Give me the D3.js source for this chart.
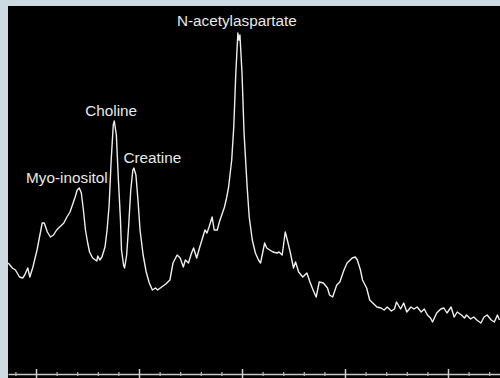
<!DOCTYPE html>
<html>
<head>
<meta charset="utf-8">
<script src="https://cdn.jsdelivr.net/npm/d3@7"></script>
<style>
  html, body { margin: 0; padding: 0; background: #cddae2; }
  svg { display: block; }
  .peak-label { font-family: "Liberation Sans", Arial, sans-serif; font-size: 15.3px; fill: #e8e8e8; }
</style>
</head>
<body>
<svg id="chart" width="500" height="378"></svg>
<script>
// chemical shift (ppm) left to right
const ppm = [
  4.27, 4.23, 4.20, 4.16, 4.13, 4.11, 4.08, 4.06, 4.03, 3.99,
  3.94, 3.92, 3.89, 3.86, 3.83, 3.80, 3.77, 3.73, 3.70, 3.67,
  3.64, 3.62, 3.60, 3.58, 3.56, 3.54, 3.52, 3.50, 3.48, 3.45,
  3.41, 3.40, 3.38, 3.36, 3.33, 3.31, 3.29, 3.27, 3.25, 3.24,
  3.22, 3.20, 3.18, 3.17, 3.15, 3.14, 3.12, 3.10, 3.08, 3.06,
  3.05, 3.03, 3.01, 2.99, 2.96, 2.93, 2.90, 2.87, 2.84, 2.82,
  2.78, 2.74, 2.70, 2.67, 2.63, 2.60, 2.57, 2.55, 2.52, 2.49,
  2.47, 2.44, 2.41, 2.38, 2.36, 2.34, 2.32, 2.29, 2.27, 2.24,
  2.22, 2.19, 2.17, 2.15, 2.13, 2.10, 2.08, 2.06, 2.04, 2.03,
  2.02, 2.00, 1.98, 1.95, 1.93, 1.90, 1.87, 1.84, 1.82, 1.80,
  1.78, 1.76, 1.73, 1.70, 1.66, 1.64, 1.61, 1.58, 1.56, 1.53,
  1.50, 1.48, 1.45, 1.41, 1.37, 1.34, 1.31, 1.28, 1.25, 1.21,
  1.17, 1.15, 1.12, 1.08, 1.05, 1.01, 0.98, 0.93, 0.90, 0.88,
  0.85, 0.83, 0.79, 0.76, 0.73, 0.69, 0.65, 0.62, 0.59, 0.55,
  0.52, 0.50, 0.46, 0.43, 0.40, 0.36, 0.33, 0.30, 0.26, 0.23,
  0.20, 0.17, 0.15, 0.11, 0.07, 0.04, 0.01, -0.03, -0.06, -0.09,
  -0.13, -0.16, -0.18, -0.22, -0.25, -0.28, -0.32, -0.35, -0.38, -0.42,
  -0.45, -0.48, -0.50
];

// signal intensity (arbitrary units)
const intensity = [
  55.5, 53, 52, 48.5, 48, 49.5, 53, 48.5, 53.5, 62,
  75.5, 75.5, 71, 68.5, 69.5, 72, 73.5, 75.5, 78.5, 81,
  85.5, 88.5, 92, 93, 90.5, 82, 72, 66, 61, 58,
  56.5, 59, 57, 58.5, 63.5, 72, 84.5, 107, 124.5, 126.5,
  119.5, 97, 77, 62, 54.5, 53, 59.5, 74.5, 92, 102,
  103, 99.5, 87, 72, 59.5, 51, 45.5, 42, 43, 42,
  43.5, 45, 47, 55.5, 59.5, 58, 53.5, 57, 55.5, 60.5,
  63, 58, 63.5, 68.5, 72, 70.5, 73.5, 78.5, 72, 72,
  76, 80.5, 83.5, 88, 93.5, 107, 123.5, 150.5, 170.5, 167,
  169.5, 150.5, 120.5, 93.5, 78.5, 67, 60.5, 57, 55.5, 60.5,
  65.5, 63, 62, 61, 60.5, 61, 59.5, 71, 67, 60.5,
  53, 56, 51, 48.5, 50.5, 46, 42, 38.5, 46, 45.5,
  43, 39.5, 38.5, 44.5, 46, 52, 55.5, 58, 58.5, 57,
  52, 47, 43, 37, 35.5, 33.5, 33, 32, 33.5, 31.5,
  32.5, 36, 32.5, 35.5, 31, 33.5, 32.5, 33.5, 31, 32.5,
  29.5, 28, 26, 30.5, 32.5, 33, 30.5, 33.5, 28.5, 31,
  29.5, 28, 29.5, 27.5, 28.5, 27, 25.5, 28.5, 29.5, 27,
  26, 29.5, 27
];

// metabolite labels
const peakNames = ["Myo-inositol", "Choline", "Creatine", "N-acetylaspartate"];
const peakPpm = [3.70, 3.27, 2.87, 2.05];
const peakLabelLevel = [95.5, 129, 105.5, 174];

const majorTicks = [4, 3, 2, 1, 0];
const minorTicks = [4.2, 3.8, 3.6, 3.4, 3.2, 2.8, 2.6, 2.4, 2.2, 1.8, 1.6, 1.4, 1.2, 0.8, 0.6, 0.4, 0.2, -0.2, -0.4];

const svg = d3.select('#chart');
const plot = { left: 8, top: 6, right: 500, bottom: 378 };

svg.append('rect')
  .attr('x', plot.left)
  .attr('y', plot.top)
  .attr('width', plot.right - plot.left)
  .attr('height', plot.bottom - plot.top)
  .attr('fill', '#000');

const x = d3.scaleLinear()
  .domain([4.272, -0.505])   // ppm runs right to left
  .range([plot.left, plot.right]);

const y = d3.scaleLinear()
  .domain([0, 175])
  .range([374, 24]);

const data = ppm.map((p, i) => ({ p: p, v: intensity[i] }));

// axis along the bottom, ticks straddle the line
const axis = svg.append('g')
  .attr('transform', `translate(0,${y(0)})`)
  .call(d3.axisBottom(x).tickValues(majorTicks).tickSizeOuter(0).tickFormat(''));

axis.select('.domain')
  .attr('stroke', '#c8c8c8')
  .attr('stroke-width', 1.5);

axis.selectAll('.tick line')
  .attr('stroke', '#d0d0d0')
  .attr('stroke-width', 1.5)
  .attr('y1', -5)
  .attr('y2', 5);

const minor = svg.append('g')
  .attr('transform', `translate(0,${y(0)})`)
  .call(d3.axisBottom(x).tickValues(minorTicks).tickSizeOuter(0).tickFormat(''));

minor.select('.domain').remove();
minor.selectAll('.tick line')
  .attr('stroke', '#bbbbbb')
  .attr('stroke-width', 1.2)
  .attr('y1', -2)
  .attr('y2', 2);

// spectrum trace
svg.append('path')
  .datum(data)
  .attr('fill', 'none')
  .attr('stroke', '#eeeeee')
  .attr('stroke-width', 1.4)
  .attr('stroke-linejoin', 'round')
  .attr('d', d3.line()
    .x(d => x(d.p))
    .y(d => y(d.v)));

// metabolite names above their peaks
svg.selectAll('.peak-label')
  .data(peakNames)
  .enter().append('text')
  .attr('class', 'peak-label')
  .attr('text-anchor', 'middle')
  .attr('x', (d, i) => x(peakPpm[i]))
  .attr('y', (d, i) => y(peakLabelLevel[i]))
  .text(d => d);
</script>
</body>
</html>
